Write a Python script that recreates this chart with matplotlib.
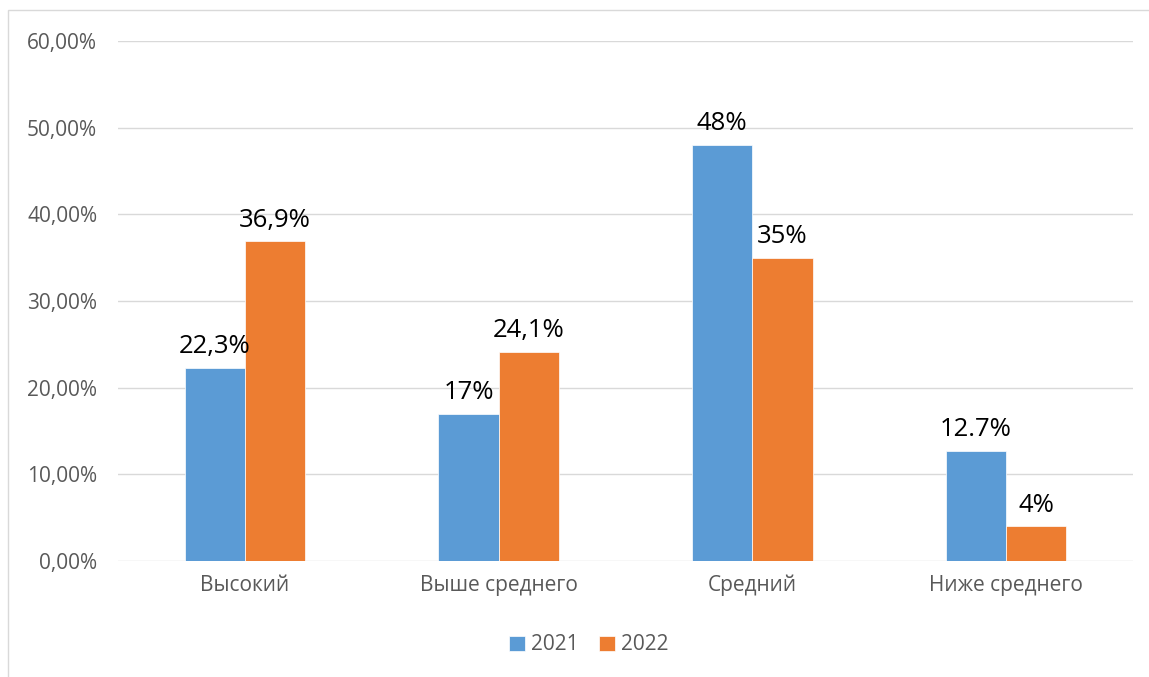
import matplotlib.pyplot as plt
import numpy as np
from matplotlib.patches import Rectangle

plt.rcParams['font.family'] = ['Open Sans', 'DejaVu Sans']

categories = ["Высокий", "Выше среднего", "Средний", "Ниже среднего"]
v2021 = [22.3, 17, 48, 12.7]
v2022 = [36.9, 24.1, 35, 4]
lab2021 = ["22,3%", "17%", "48%", "12.7%"]
lab2022 = ["36,9%", "24,1%", "35%", "4%"]
yticks = [0, 10, 20, 30, 40, 50, 60]
ylabels = ["0,00%", "10,00%", "20,00%", "30,00%", "40,00%", "50,00%", "60,00%"]

blue = "#5B9BD5"
orange = "#ED7D31"
gray = "#595959"

fig = plt.figure(figsize=(11.49, 6.77), dpi=100)
# outer chart frame
fig.patches.append(Rectangle((8/1149, -0.05), 1.2, 1 - 10/677 + 0.05, transform=fig.transFigure,
                             fill=False, edgecolor="#d9d9d9", linewidth=1))
ax = fig.add_axes([118/1149, 1 - 561/677, 1015/1149, 520/677])

x = np.arange(len(categories))
w = 0.237
b1 = ax.bar(x - w/2, v2021, w, color=blue, edgecolor="white", linewidth=0.5, label="2021", zorder=3)
b2 = ax.bar(x + w/2, v2022, w, color=orange, edgecolor="white", linewidth=0.5, label="2022", zorder=3)

for rect, t in zip(b1, lab2021):
    ax.text(rect.get_x() + rect.get_width()/2, rect.get_height() + 1.0, t,
            ha="center", va="bottom", fontsize=18.5, color="black")
for rect, t in zip(b2, lab2022):
    ax.text(rect.get_x() + rect.get_width()/2, rect.get_height() + 1.0, t,
            ha="center", va="bottom", fontsize=18.5, color="black")

ax.set_xlim(-0.5, 3.5)
ax.set_ylim(0, 60)
ax.set_yticks(yticks)
ax.set_yticklabels(ylabels)
ax.set_xticks(x)
ax.set_xticklabels(categories)
ax.tick_params(axis="both", length=0, colors=gray, labelsize=15)
ax.tick_params(axis="y", pad=15)
ax.tick_params(axis="x", pad=10)
ax.grid(axis="y", color="#d9d9d9", linewidth=1, zorder=0)
for s in ax.spines.values():
    s.set_visible(False)

leg = ax.legend(loc="center", bbox_to_anchor=(589/1149, 1 - 645/677), bbox_transform=fig.transFigure,
                ncol=2, frameon=False, fontsize=15, handlelength=0.75, handleheight=0.75,
                columnspacing=1.0, handletextpad=0.3)
for t in leg.get_texts():
    t.set_color(gray)

plt.savefig("out.png", dpi=100)
